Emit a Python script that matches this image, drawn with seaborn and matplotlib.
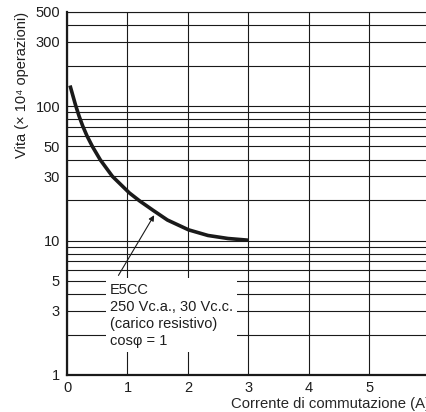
import matplotlib
matplotlib.use("Agg")
import matplotlib.pyplot as plt
from matplotlib.ticker import FixedLocator, NullFormatter
import numpy as np
import pandas as pd
import seaborn as sns

# Life curve of the E5CC relay output (switching current vs. operations)
current_a = [0.05, 0.14, 0.20, 0.26, 0.33, 0.42, 0.55, 0.75, 1.03, 1.20,
             1.42, 1.66, 2.01, 2.33, 2.66, 3.00]
life_1e4 = [142, 102, 84, 71, 60, 50, 39.8, 30, 22.6, 19.7,
            16.8, 14.2, 12.0, 10.9, 10.35, 10.05]

x_ticks = [0, 1, 2, 3, 4, 5, 6]
y_label_ticks = [1, 3, 5, 10, 30, 50, 100, 300, 500]
y_grid_minor = [2, 4, 6, 7, 8, 9, 20, 40, 60, 70, 80, 90, 200, 400]

note_lines = ["E5CC", "250 Vc.a., 30 Vc.c.", "(carico resistivo)", "cos\u03c6 = 1"]

sns.set_style("white")
plt.rcParams["font.family"] = ["Liberation Sans", "DejaVu Sans"]
plt.rcParams["text.color"] = "#1e1e1e"

fig = plt.figure(figsize=(4.26, 4.12), dpi=100)
ax = fig.add_axes([67 / 426, 1 - 375 / 412, 363 / 426, 363 / 412])

df = pd.DataFrame({"corrente": current_a, "vita": life_1e4})
sns.lineplot(data=df, x="corrente", y="vita", ax=ax, color="#1a1a1a",
             linewidth=2.6, solid_capstyle="butt", solid_joinstyle="round", zorder=4)

ax.set_yscale("log")
ax.set_xlim(0, 6)
ax.set_ylim(1, 500)

ax.xaxis.set_major_locator(FixedLocator(x_ticks))
ax.set_xticklabels([str(v) for v in x_ticks])
ax.yaxis.set_major_locator(FixedLocator(y_label_ticks))
ax.set_yticklabels([str(v) for v in y_label_ticks])
ax.yaxis.set_minor_locator(FixedLocator(y_grid_minor))
ax.yaxis.set_minor_formatter(NullFormatter())

ax.tick_params(axis="both", which="both", length=0, labelsize=10.5, labelcolor="#1e1e1e")
ax.tick_params(axis="x", pad=4)
ax.tick_params(axis="y", pad=5)

grid_kw = dict(color="#1a1a1a", linewidth=0.8)
ax.grid(True, which="major", axis="both", **grid_kw)
ax.grid(True, which="minor", axis="y", **grid_kw)
ax.set_axisbelow(True)

for side in ["left", "bottom"]:
    ax.spines[side].set_linewidth(1.6)
    ax.spines[side].set_color("#1a1a1a")
for side in ["top", "right"]:
    ax.spines[side].set_linewidth(0.8)
    ax.spines[side].set_color("#1a1a1a")

ax.set_xlabel("Corrente di commutazione (A)", fontsize=10.7, loc="right", labelpad=1.5)
ax.set_ylabel("")
fig.text(22 / 426, 1 - 85 / 412, "Vita (\u00d7 10\u2074 operazioni)", rotation=90,
         ha="center", va="center", fontsize=10.5)

# Condition note with a white box hiding the grid behind it
ax.text(0.71, 4.85, "\n".join(note_lines), ha="left", va="top", fontsize=10.5,
        linespacing=1.28, zorder=5,
        bbox=dict(boxstyle="square,pad=0.3", fc="white", ec="none"))

x_tip = 1.47
y_tip = float(np.exp(np.interp(x_tip, current_a, np.log(life_1e4))))
ax.annotate("", xy=(x_tip, y_tip), xytext=(0.85, 5.5),
            arrowprops=dict(arrowstyle="-|>", color="#1a1a1a", lw=0.8,
                            mutation_scale=8, shrinkA=0, shrinkB=2.5),
            zorder=6)

fig.savefig("out.png", dpi=100)
